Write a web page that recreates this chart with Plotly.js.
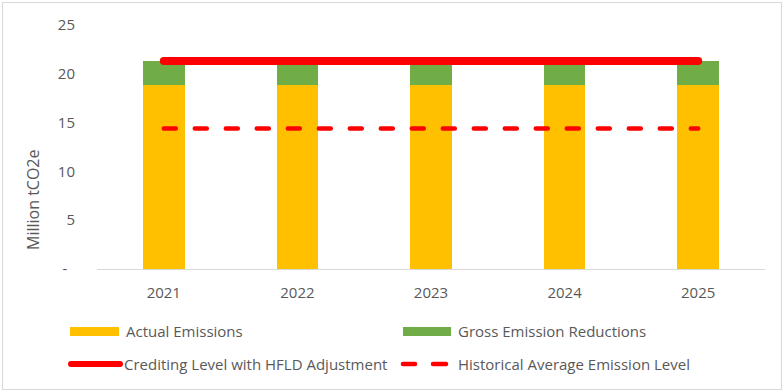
<!DOCTYPE html>
<html>
<head>
<meta charset="utf-8">
<script src="https://cdn.plot.ly/plotly-3.0.1.min.js"></script>
<style>
  html, body { margin: 0; padding: 0; background: #fff; }
  #wrap { position: relative; width: 784px; height: 392px; }
  #chart { width: 784px; height: 392px; }
  #frame { position: absolute; left: 2px; top: 2px; width: 778px; height: 386px; border: 1px solid #d9d9d9; pointer-events: none; }
  .scatterlayer path.js-line { stroke-linecap: round; }
  .shapelayer path { stroke-linecap: round; }
</style>
</head>
<body>
<div id="wrap"><div id="chart"></div><div id="frame"></div></div>
<script>
// ---- data ----
const years = ['2021', '2022', '2023', '2024', '2025'];
const actualEmissions = [18.85, 18.85, 18.85, 18.85, 18.85];
const grossEmissionReductions = [2.45, 2.45, 2.45, 2.45, 2.45];
const creditingLevelHFLD = [21.3, 21.3, 21.3, 21.3, 21.3];
const historicalAverage = [14.4, 14.4, 14.4, 14.4, 14.4];
const yTickVals = [0, 5, 10, 15, 20, 25];
const yTickText = ['-\u00a0\u00a0', '5', '10', '15', '20', '25'];
const legendLabels = ['Actual Emissions', 'Gross Emission Reductions',
                      'Crediting Level with HFLD Adjustment', 'Historical Average Emission Level'];

// ---- layout geometry (pixels) ----
const W = 784, H = 392;
const M = { l: 97, r: 19, t: 25, b: 123 };
const pw = W - M.l - M.r, ph = H - M.t - M.b;
const px = v => (v - M.l) / pw;          // pixel x -> paper
const py = v => (H - M.b - v) / ph;      // pixel y -> paper

const textColor = '#595959';
const FONT = '"Open Sans", "Noto Sans", sans-serif';
const cYellow = '#FFC000', cGreen = '#70AD47', cRed = '#FF0000';

const traces = [
  { type: 'bar', x: years, y: actualEmissions, name: legendLabels[0],
    marker: { color: cYellow }, width: 0.31, hoverinfo: 'y' },
  { type: 'bar', x: years, y: grossEmissionReductions, name: legendLabels[1],
    marker: { color: cGreen }, width: 0.31, hoverinfo: 'y' },
  { type: 'scatter', mode: 'lines', x: years, y: creditingLevelHFLD, name: legendLabels[2],
    line: { color: cRed, width: 8 } },
  { type: 'scatter', mode: 'lines', x: years, y: historicalAverage, name: legendLabels[3],
    line: { color: cRed, width: 4.5, dash: '12px,19px' } }
];

const shapes = [
  // legend swatches
  { type: 'rect', xref: 'paper', yref: 'paper', x0: px(70), x1: px(119), y0: py(336), y1: py(327),
    fillcolor: cYellow, line: { width: 0 } },
  { type: 'rect', xref: 'paper', yref: 'paper', x0: px(403), x1: px(451), y0: py(336), y1: py(327),
    fillcolor: cGreen, line: { width: 0 } },
  { type: 'line', xref: 'paper', yref: 'paper', x0: px(71), x1: px(120), y0: py(364), y1: py(364),
    line: { color: cRed, width: 6 } },
  { type: 'line', xref: 'paper', yref: 'paper', x0: px(403), x1: px(415), y0: py(364), y1: py(364),
    line: { color: cRed, width: 4.5 } },
  { type: 'line', xref: 'paper', yref: 'paper', x0: px(433), x1: px(446), y0: py(364), y1: py(364),
    line: { color: cRed, width: 4.5 } }
];

const legFont = { family: FONT, size: 15, color: textColor };
const annotations = [
  { xref: 'paper', yref: 'paper', x: px(124), y: py(331), xanchor: 'left', yanchor: 'middle',
    text: legendLabels[0], showarrow: false, font: legFont },
  { xref: 'paper', yref: 'paper', x: px(456), y: py(331), xanchor: 'left', yanchor: 'middle',
    text: legendLabels[1], showarrow: false, font: legFont },
  { xref: 'paper', yref: 'paper', x: px(122), y: py(364), xanchor: 'left', yanchor: 'middle',
    text: legendLabels[2], showarrow: false, font: legFont },
  { xref: 'paper', yref: 'paper', x: px(456), y: py(364), xanchor: 'left', yanchor: 'middle',
    text: legendLabels[3], showarrow: false, font: legFont },
  // y-axis title
  { xref: 'paper', yref: 'paper', x: px(33), y: py(200), xanchor: 'center', yanchor: 'middle',
    text: 'Million tCO2e', textangle: -90, showarrow: false,
    font: { family: FONT, size: 16, color: textColor } }
];

const layout = {
  width: W, height: H,
  margin: M,
  paper_bgcolor: '#ffffff', plot_bgcolor: '#ffffff',
  barmode: 'stack',
  showlegend: false,
  font: { family: FONT, size: 15, color: textColor },
  xaxis: {
    type: 'category', showgrid: false, zeroline: false,
    showline: true, linecolor: '#d9d9d9', linewidth: 1,
    ticks: 'outside', ticklen: 10, tickcolor: 'rgba(0,0,0,0)',
    tickfont: { family: FONT, size: 15, color: textColor }
  },
  yaxis: {
    range: [0, 25], showgrid: false, zeroline: false, showline: false,
    tickvals: yTickVals, ticktext: yTickText,
    ticks: 'outside', ticklen: 18, tickcolor: 'rgba(0,0,0,0)',
    tickfont: { family: FONT, size: 15, color: textColor }
  },
  shapes: shapes,
  annotations: annotations
};

Plotly.newPlot('chart', traces, layout, { displayModeBar: false, staticPlot: true });
</script>
</body>
</html>
